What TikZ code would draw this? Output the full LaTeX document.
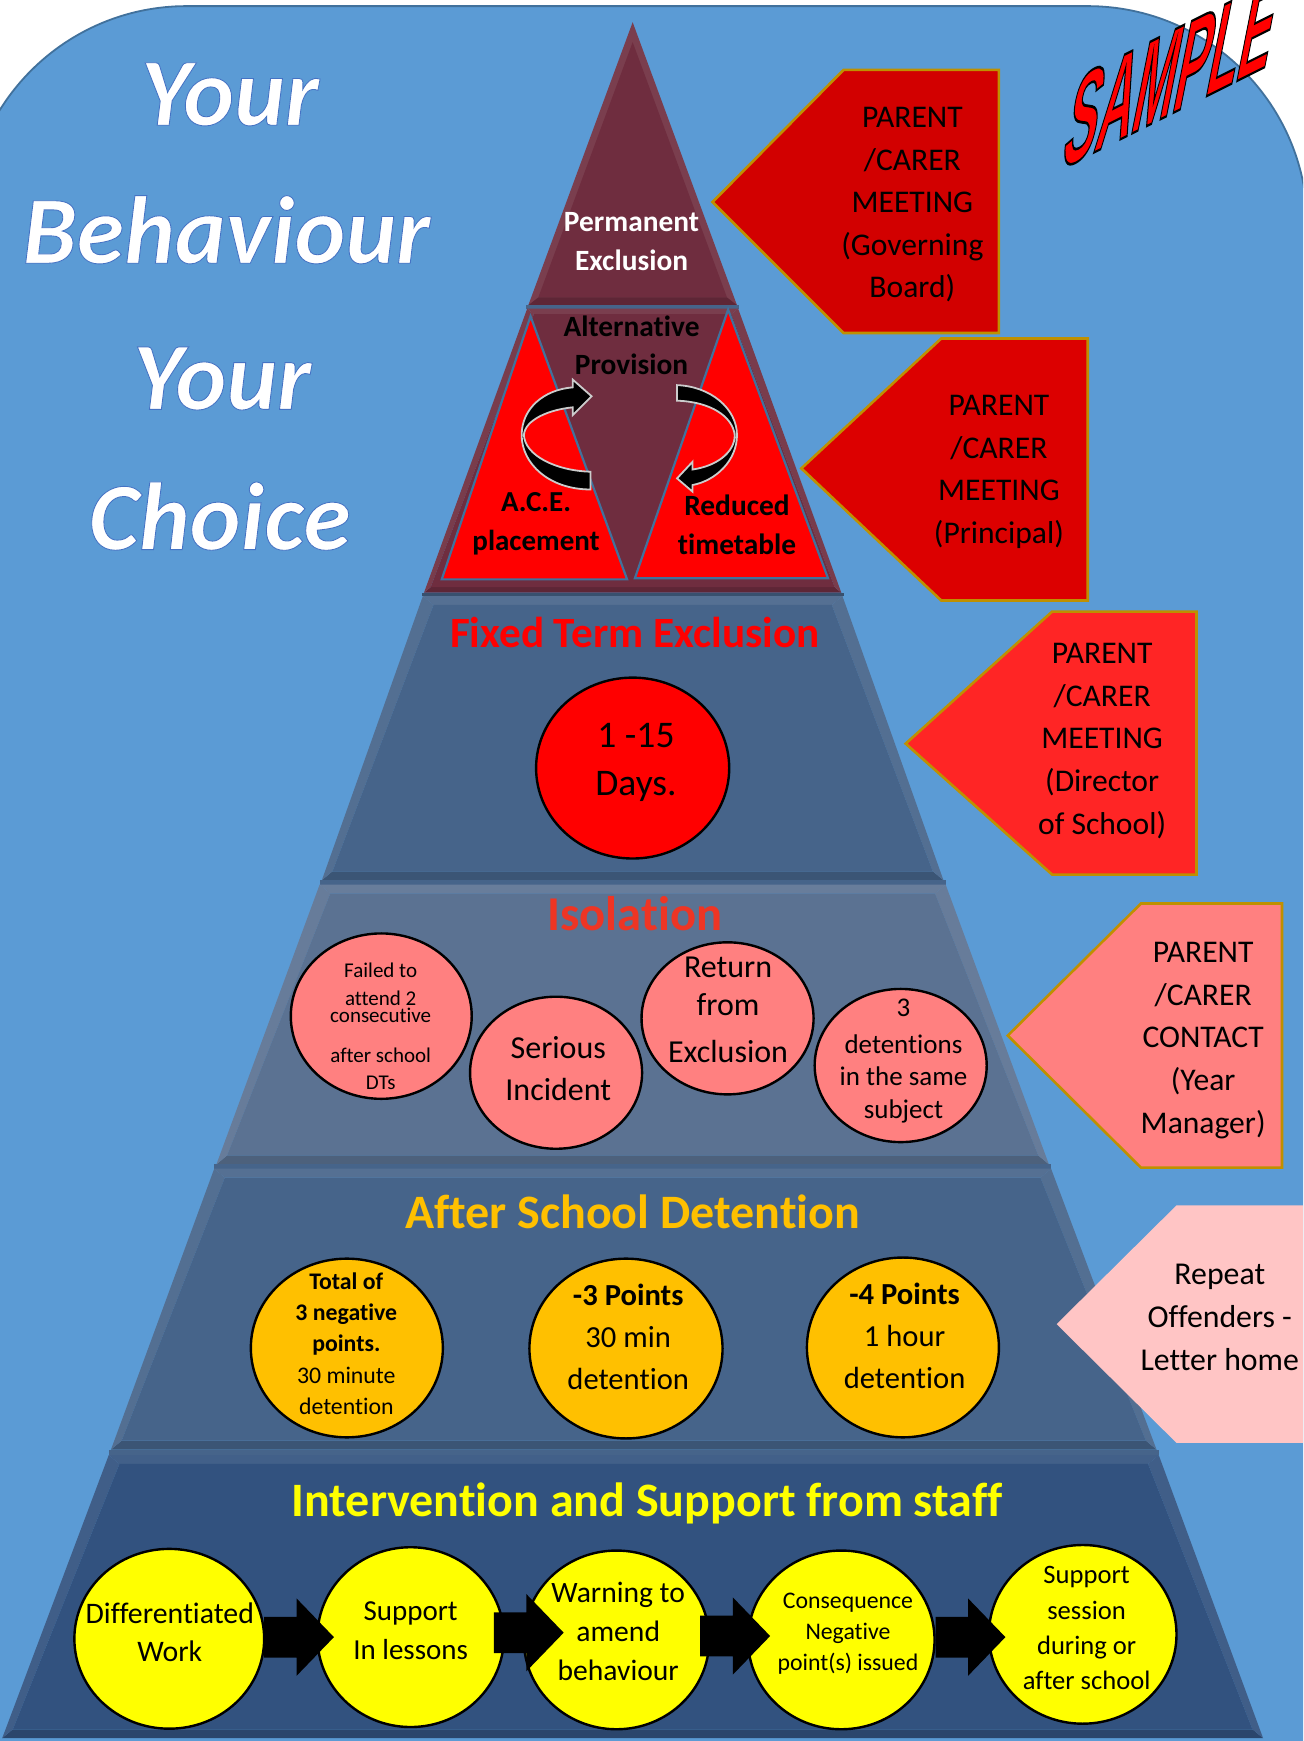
\documentclass[tikz,border=0pt]{standalone}
\usepackage{fontspec}
\setmainfont[Ligatures=NoCommon]{Carlito}
\newfontfamily\titlefont[FakeBold=0.9,Ligatures=NoCommon]{Carlito Bold Italic}
\newfontfamily\samplefont[FakeBold=2]{Liberation Sans Bold}
\usetikzlibrary{shapes.geometric,shapes.arrows}
\definecolor{bgblue}{HTML}{5B9BD5}
\definecolor{bgedge}{HTML}{41719C}
\definecolor{maroon}{HTML}{6F2D3F}
\definecolor{tierA}{HTML}{46648A}
\definecolor{tierB}{HTML}{5B7292}
\definecolor{tierC}{HTML}{32527F}
\definecolor{gold}{HTML}{BF9000}
\definecolor{callA}{HTML}{D20000}
\definecolor{callB}{HTML}{DC0000}
\definecolor{callC}{HTML}{FF2525}
\definecolor{callD}{HTML}{FF8080}
\definecolor{callE}{HTML}{FFC5C5}
\definecolor{orangeT}{HTML}{FFC000}
\definecolor{isoT}{HTML}{EE3524}
\definecolor{fixT}{HTML}{FF0000}
\definecolor{yelT}{HTML}{FFFF00}
\newcommand\fz[2]{\fontsize{#1}{#2}\selectfont\lineskiplimit=-100pt\relax}
\newcommand\tier[8]{%
 % #1,#2 top-left x,y  #3 top-right x  #4,#5 bottom-left x,y  #6 bottom-right x  #7 colour  #8 inset
 \fill[#7!92!white] (#1,#2) -- (#3,#2) -- (#3-#8*1.2,#2+#8) -- (#1+#8*1.2,#2+#8) -- cycle;
 \fill[#7!85!black] (#4,#5) -- (#6,#5) -- (#6-#8*1.2,#5-#8) -- (#4+#8*1.2,#5-#8) -- cycle;
 \fill[#7!93!white] (#1,#2) -- (#4,#5) -- (#4+#8*1.2,#5-#8) -- (#1+#8*1.2,#2+#8) -- cycle;
 \fill[#7!93!white] (#3,#2) -- (#6,#5) -- (#6-#8*1.2,#5-#8) -- (#3-#8*1.2,#2+#8) -- cycle;
 \fill[#7] (#1+#8*1.2,#2+#8) -- (#3-#8*1.2,#2+#8) -- (#6-#8*1.2,#5-#8) -- (#4+#8*1.2,#5-#8) -- cycle;
}
\tikzset{
 ell/.style={ellipse,draw=black,line width=1.2pt,inner sep=0pt},
 txt/.style={align=center,inner sep=0pt,text=black},
 callout/.style={draw=gold,line width=1.3pt,line join=miter},
 tri/.style={fill=red,draw=bgedge,line width=1.1pt},
 turn/.style={fill=black,draw=black!20,line width=.9pt,line join=miter},
 blockarrow/.style={single arrow,fill=black,draw=none,inner sep=0pt,text height=19.98pt,text depth=0pt,
   minimum height=34.96pt,minimum width=38.3pt,single arrow head extend=9.16pt,single arrow tip angle=92,
   single arrow head indent=0pt},
}
\begin{document}
\begin{tikzpicture}[x=0.555pt,y=-0.555pt]
\useasboundingbox (0,0) rectangle (1174,1568.6);
\clip (0,0) rectangle (1174,1568.6);
\fill[white] (0,0) rectangle (1174,1568.6);
% page panel
\filldraw[fill=bgblue,draw=bgedge,line width=.9pt,rounded corners=110pt]
  (-30,5.5) rectangle (1178,1900);
% pyramid
\fill[maroon!92!white] (570,20) -- (664,275) -- (476,275) -- cycle;
\fill[maroon] (570,38) -- (655,268) -- (485,268) -- cycle;
\fill[maroon!85!black] (476,275) -- (664,275) -- (655,268) -- (485,268) -- cycle;
\fill[tierA] (474,275) rectangle (666,278);
\tier{475}{278}{665}{382}{534}{758}{maroon}{5}
\fill[tierA!80!black] (380,534) -- (760,534) -- (760,537) -- (380,537) -- cycle;
\tier{381}{537}{759}{290}{793}{850}{tierA}{8}
\fill[tierA] (288,793) rectangle (852,797);
\tier{288}{797}{852}{195}{1049}{945}{tierB}{8}
\fill[tierA] (193,1049) rectangle (947,1053);
\tier{193}{1053}{947}{100}{1306}{1042}{tierA}{8}
\fill[tierA] (98,1306) rectangle (1044,1311);
\tier{98}{1311}{1044}{2}{1566}{1138}{tierC}{8}
% red triangles
\draw[tri] (478,285) -- (565,522) -- (398,522) -- cycle;
\draw[tri] (656,279) -- (746,521) -- (572,521) -- cycle;
% curved arrows
\draw[turn] (532,441) .. controls (495,441) and (470,418) .. (470,392)
  .. controls (470,368) and (490,351) .. (516,349) -- (516,342) -- (533,357) -- (516,374) -- (516,367)
  .. controls (495,369) and (473,378) .. (472,392)
  .. controls (473,410) and (500,424) .. (532,425) -- cycle;
\draw[turn] (610,347) .. controls (640,348) and (664,368) .. (664,392)
  .. controls (664,415) and (645,433) .. (624,437) -- (624,443) -- (610,431) -- (624,416) -- (624,423)
  .. controls (645,420) and (662,408) .. (662,392)
  .. controls (660,375) and (640,362) .. (610,361) -- cycle;
% callouts
\draw[callout,fill=callA] (642,182) -- (760,63) -- (900,63) -- (900,300) -- (760,300) -- cycle;
\draw[callout,fill=callB] (722,422) -- (848,305) -- (980,305) -- (980,541) -- (848,541) -- cycle;
\draw[callout,fill=callC] (816,670) -- (948,551) -- (1078,551) -- (1078,788) -- (948,788) -- cycle;
\draw[callout,fill=callD] (908,933) -- (1028,814) -- (1155,814) -- (1155,1052) -- (1028,1052) -- cycle;
\fill[callE] (952,1193) -- (1060,1086) -- (1180,1086) -- (1180,1300) -- (1060,1300) -- cycle;
\node[txt,font=\fz{15.8}{21.3}] (c1) at (822,184.5) {PARENT\\/CARER\\MEETING\\(Governing\\Board)};
\node[txt,font=\fz{15.8}{21.3}] (c2) at (900,425) {PARENT\\/CARER\\MEETING\\(Principal)};
\node[txt,font=\fz{15.8}{21.3}] (c3) at (993,667.5) {PARENT\\/CARER\\MEETING\\(Director\\of School)};
\node[txt,font=\fz{15.8}{21.3}] (c4) at (1084,937.5) {PARENT\\/CARER\\CONTACT\\(Year\\Manager)};
\node[txt,font=\fz{15.9}{21.3}] (c5) at (1099,1187) {Repeat\\Offenders -\\Letter home};
% title
\node[inner sep=0pt] (t1) at (207,85) {\titlefont\fz{48.2}{50}\special{pdf:bcolor [1 1 1] [0.27 0.45 0.77]}Your\special{pdf:ecolor}};
\node[inner sep=0pt] (t2) at (204,207) {\titlefont\fz{48.2}{50}\special{pdf:bcolor [1 1 1] [0.27 0.45 0.77]}Behaviour\special{pdf:ecolor}};
\node[inner sep=0pt] (t3) at (200,341) {\titlefont\fz{48.2}{50}\special{pdf:bcolor [1 1 1] [0.27 0.45 0.77]}Your\special{pdf:ecolor}};
\node[inner sep=0pt] (t4) at (198,465) {\titlefont\fz{48.2}{50}\special{pdf:bcolor [1 1 1] [0.27 0.45 0.77]}Choice\special{pdf:ecolor}};
% sample
\node[inner sep=0pt,transform shape,yslant=0.50,xslant=0.22,xscale=0.415] (sample) at (1056,65)
  {\samplefont\fz{60}{60}\special{pdf:bcolor [1 0 0] [0 0 0]}SAMPLE\special{pdf:ecolor}};
% tier labels
\node[txt,text=white,font=\fz{14.7}{19.4}\bfseries] (l1) at (569,217.5) {Permanent\\Exclusion};
\node[txt,font=\fz{14.7}{19}\bfseries] (l2) at (569,311) {Alternative\\Provision};
\node[txt,font=\fz{14.5}{19.4}\bfseries] (l2a) at (483,472) {A.C.E.\\placement};
\node[txt,font=\fz{14.7}{19.4}\bfseries] (l2b) at (664,473) {Reduced\\timetable};
\node[txt,text=fixT,font=\fz{21.6}{24}\bfseries] (l3) at (572,570) {Fixed Term Exclusion};
\node[txt,text=isoT,font=\fz{24.3}{26}\bfseries] (l4) at (572,823) {Isolation};
\node[txt,text=orangeT,font=\fz{24}{26}\bfseries] (l5) at (570,1092) {After School Detention};
\node[txt,text=yelT,font=\fz{24}{26}\bfseries] (l6) at (583,1354.5) {Intervention and Support from staff};
% fixed term
\node[ell,fill=red,minimum width=174*0.555pt,minimum height=163*0.555pt] (f1) at (570,692) {};
\node[txt,font=\fz{18.8}{24.4}] (f1t) at (573,687) {1 -15\\Days.};
% isolation
\node[ell,fill=callD,minimum width=163*0.555pt,minimum height=149*0.555pt] (i1) at (343.5,915.5) {};
\node[ell,fill=callD,minimum width=155*0.555pt,minimum height=137*0.555pt] (i2) at (501,966.5) {};
\node[ell,fill=callD,minimum width=155*0.555pt,minimum height=137*0.555pt] (i3) at (655.5,917.5) {};
\node[ell,fill=callD,minimum width=155*0.555pt,minimum height=138*0.555pt] (i4) at (811.5,960) {};
\node[txt,font=\fz{10.5}{8.3}] (i1t) at (343,925) {Failed to\\[5.55pt]attend 2\\consecutive\\[11.6pt]after school\\[5.55pt]DTs};
\node[txt,font=\fz{16}{21.1}] (i2t) at (503,963) {Serious\\Incident};
\node[txt,font=\fz{16}{18.9}] (i3t) at (656,910) {Return\\from\\[4.4pt]Exclusion};
\node[txt,font=\fz{13.5}{16.2}] (i4t) at (814,956) {3\\[2.2pt]detentions\\in the same\\subject};
% detention
\node[ell,fill=orangeT,minimum width=173*0.555pt,minimum height=161*0.555pt] (a1) at (312.5,1214.5) {};
\node[ell,fill=orangeT,minimum width=174*0.555pt,minimum height=162*0.555pt] (a2) at (564,1215) {};
\node[ell,fill=orangeT,minimum width=173*0.555pt,minimum height=162*0.555pt] (a3) at (813.5,1214) {};
\node[txt,font=\fz{11.9}{15.7}] (a1t) at (312,1210.5) {\textbf{Total of}\\\textbf{3 negative}\\\textbf{points.}\\30 minute\\detention};
\node[txt,font=\fz{15.3}{21}] (a2t) at (566,1204.5) {\textbf{-3 Points}\\30 min\\detention};
\node[txt,font=\fz{15.3}{21}] (a3t) at (815,1204) {\textbf{-4 Points}\\1 hour\\detention};
% intervention
\node[ell,fill=yelT,minimum width=171*0.555pt,minimum height=162*0.555pt] (e1) at (152.5,1476.5) {};
\node[ell,fill=yelT,minimum width=168*0.555pt,minimum height=162*0.555pt] (e2) at (370,1475) {};
\node[ell,fill=yelT,minimum width=167*0.555pt,minimum height=161*0.555pt] (e3) at (555.5,1477.5) {};
\node[ell,fill=yelT,minimum width=168*0.555pt,minimum height=161*0.555pt] (e4) at (758,1477.5) {};
\node[ell,fill=yelT,minimum width=169*0.555pt,minimum height=161*0.555pt] (e5) at (975.5,1472.5) {};
\node[blockarrow] (b1) at (260.5,1475) {};
\node[blockarrow] (b2) at (467.5,1471) {};
\node[blockarrow] (b3) at (653.5,1474) {};
\node[blockarrow] (b4) at (865.5,1475) {};
\node[txt,font=\fz{14.9}{19}] (e1t) at (153,1470.5) {Differentiated\\Work};
\node[txt,font=\fz{14.5}{19.4}] (e2t) at (370,1469) {Support\\In lessons};
\node[txt,font=\fz{14.8}{19.4}] (e3t) at (557,1470) {Warning to\\amend\\behaviour};
\node[txt,font=\fz{11.9}{15.5}] (e4t) at (764,1471.5) {Consequence\\Negative\\point(s) issued};
\node[txt,font=\fz{13.3}{17.6}] (e5t) at (979,1467) {Support\\session\\during or\\after school};
\end{tikzpicture}
\end{document}
